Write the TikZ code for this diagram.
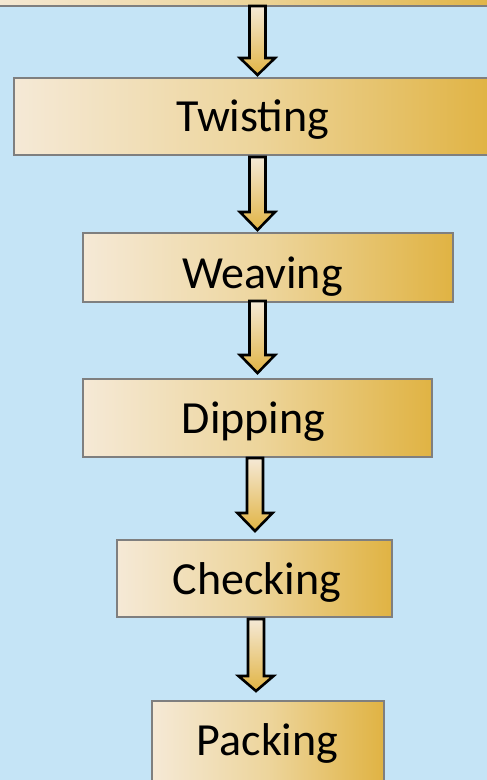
\documentclass[tikz,border=0pt]{standalone}
\usepackage{fontspec}
\setmainfont{Carlito}
\usetikzlibrary{calc}
\definecolor{bg}{HTML}{C5E4F6}
\definecolor{boxline}{HTML}{7F7F7F}
\definecolor{goldL}{HTML}{F5E9D6}
\definecolor{goldM}{HTML}{EDD59C}
\definecolor{goldR}{HTML}{E0B343}
\definecolor{arrT}{HTML}{F5E9D6}
\definecolor{arrB}{HTML}{E1B444}
% #1 from node, #2 to node, #3 centre x, #4 start gap, #5 tip gap, #6 head length
\newcommand{\flowarrow}[6]{%
  \path[flowarr] let \p1=(#1.south), \p2=(#2.north) in
    (#3pt-8pt,\y1-#4pt) -- (#3pt+8pt,\y1-#4pt) -- (#3pt+8pt,\y2+#5pt+#6pt)
    -- (#3pt+17.5pt,\y2+#5pt+#6pt) -- (#3pt,\y2+#5pt) -- (#3pt-17.5pt,\y2+#5pt+#6pt)
    -- (#3pt-8pt,\y2+#5pt+#6pt) -- cycle;}
\begin{document}
\begin{tikzpicture}[x=1pt,y=-1pt,
  stage/.style={draw=boxline, line width=1.8pt, left color=goldL, right color=goldR,
    middle color=goldM, inner sep=0pt, outer sep=0pt},
  steplabel/.style={font=\fontsize{46}{50}\selectfont, anchor=base, inner sep=0pt, text=black},
  flowarr/.style={draw=black, line width=2.6pt, line join=miter, top color=arrT, bottom color=arrB}]
\useasboundingbox (0,0) rectangle (487,780);
\clip (0,0) rectangle (487,780);
\fill[bg] (0,0) rectangle (487,780);

\node[stage, minimum width=520, minimum height=80] (top) at (243.5,-34) {};
\node[stage, minimum width=478, minimum height=77] (tw) at (253,116.5) {};
\node[stage, minimum width=370, minimum height=69] (we) at (268,267.5) {};
\node[stage, minimum width=349, minimum height=78] (di) at (257.5,418) {};
\node[stage, minimum width=275, minimum height=77] (ch) at (254.5,578.5) {};
\node[stage, minimum width=232, minimum height=89] (pa) at (268,745.5) {};

\node[steplabel] (twt) at (253,131.7) {Twisting};
\node[steplabel] (wet) at (262.5,288) {Weaving};
\node[steplabel] (dit) at (253.5,433) {Dipping};
\node[steplabel] (cht) at (257,594) {Checking};
\node[steplabel] (pat) at (267.5,755) {Packing};

\flowarrow{top}{tw}{257.5}{0}{3}{17}
\flowarrow{tw}{we}{257.5}{2}{3}{18}
\flowarrow{we}{di}{257.5}{-1}{6}{18}
\flowarrow{di}{ch}{255}{1}{9}{18}
\flowarrow{ch}{pa}{256}{2}{10}{15}
\end{tikzpicture}
\end{document}
